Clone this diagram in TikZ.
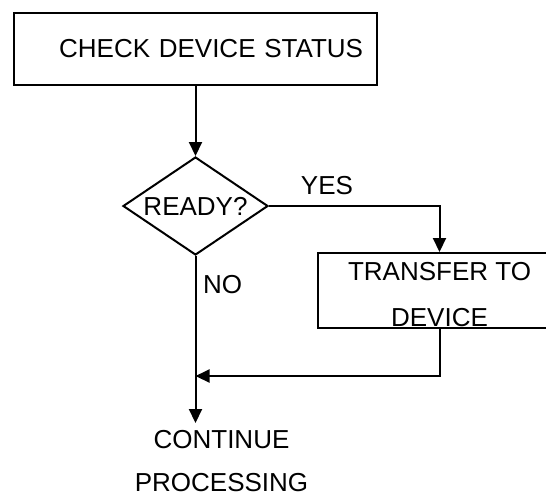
\documentclass[tikz,border=0pt]{standalone}
\usepackage{fontspec}
\setmainfont{Liberation Sans}
\usetikzlibrary{shapes.geometric, arrows.meta, positioning}

\begin{document}
\begin{tikzpicture}[node distance=3cm, auto,
    font=\fontsize{13}{23}\selectfont,
    process/.style={rectangle, draw=black, line width=1pt, minimum height=36pt},
    decision/.style={diamond, draw=black, line width=1pt, inner sep=0pt, aspect=1.48,
                     text height=9pt, text depth=0pt, minimum width=72.5pt, minimum height=49pt},
    arrow/.style={-{Triangle[length=7pt, width=6.5pt]}, line width=1pt}]

    \useasboundingbox (0,0) rectangle (273pt,-247.5pt);

    % Nodes
    \node[process, text width=167.5pt, inner xsep=7pt, align=right] (check) at (97.75pt,-24.5pt) {CHECK DEVICE STATUS};
    \node[decision, below of=check, node distance=78.5pt] (ready) {READY?};
    \node[process, right of=ready, node distance=122pt, yshift=-42.25pt, inner ysep=0pt,
          minimum width=122pt, minimum height=37.5pt, align=center, text height=36pt, text depth=0pt] (transfer) {TRANSFER TO\\DEVICE};
    \node[below of=ready, node distance=127.7pt, xshift=13pt, align=center,
          font=\fontsize{13}{21.5}\selectfont] (continue) {CONTINUE\\PROCESSING};
    \coordinate[below of=ready, node distance=85pt] (merge);
    \coordinate[below of=ready, node distance=108.5pt] (stop);

    % Arrows
    \draw[arrow] (check) -- (ready);
    \draw[arrow] (ready.east) -| node[pos=0.17, above, yshift=2pt] {YES} (transfer.north);
    \draw[arrow] (ready.south) -- node[pos=0.17, right] {NO} (stop);
    \draw[arrow] (transfer.south) |- (merge);

\end{tikzpicture}
\end{document}
